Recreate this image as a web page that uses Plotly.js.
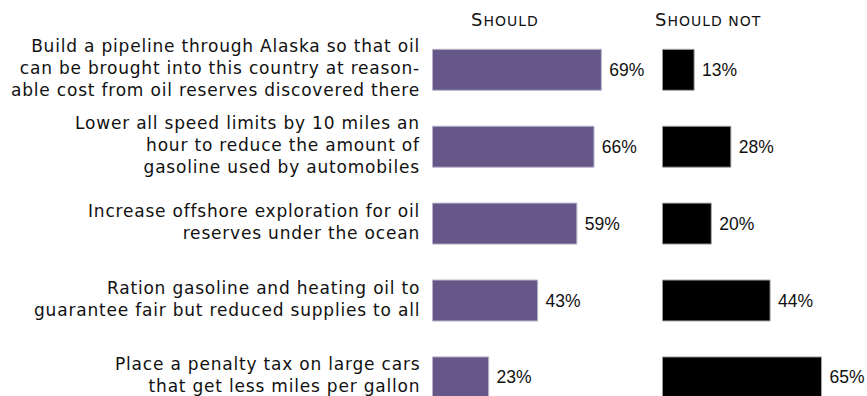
<!DOCTYPE html>
<html><head><meta charset="utf-8">
<script src="https://cdn.plot.ly/plotly-3.0.1.min.js"></script>
<style>body{margin:0;padding:0;background:#fff}#chart{width:867px;height:396px}</style>
</head><body><div id="chart"></div>
<script>
var categories = [
  "Build a pipeline through Alaska so that oil<br>can be brought into this country at reason-<br>able cost from oil reserves discovered there",
  "Lower all speed limits by 10 miles an<br>hour to reduce the amount of<br>gasoline used by automobiles",
  "Increase offshore exploration for oil<br>reserves under the ocean",
  "Ration gasoline and heating oil to<br>guarantee fair but reduced supplies to all",
  "Place a penalty tax on large cars<br>that get less miles per gallon"
];
var shouldVals = [69, 66, 59, 43, 23];
var shouldNotVals = [13, 28, 20, 44, 65];
var headerTexts = ["Should", "Should not"];

function smallCaps(s) {
  return '<span style="letter-spacing:1px">' + s.charAt(0).toUpperCase() +
    '<span style="font-size:14px">' + s.slice(1).toUpperCase() + '</span></span>';
}
function spaced(s) {
  return s.split('<br>').map(function(l){return '<span style="letter-spacing:0.8px">' + l + '</span>';}).join('<br>');
}

var W = 867, H = 396;
var pxPerPct = 2.45;
var x1start = 432.3, x2start = 662.3;
var xr = 70;
var pitch = 76.9, firstCenter = 69.8;
var yTop = -firstCenter / pitch;
var yBot = yTop + H / pitch;

var barCommon = {
  type: 'bar', orientation: 'h', width: 0.533,
  textposition: 'outside', cliponaxis: false,
  textfont: {family: 'Liberation Sans, Arial, sans-serif', size: 17.5, color: '#111'},
  hoverinfo: 'skip'
};
var t1 = Object.assign({}, barCommon, {
  x: shouldVals, y: categories, xaxis: 'x', yaxis: 'y',
  text: shouldVals.map(function(v){return ' ' + v + '%';}),
  marker: {color: '#655888', line: {color: '#b9b3c9', width: 1}}
});
var t2 = Object.assign({}, barCommon, {
  x: shouldNotVals, y: categories, xaxis: 'x2', yaxis: 'y2',
  text: shouldNotVals.map(function(v){return ' ' + v + '%';}),
  marker: {color: '#000000', line: {color: '#a8a8a8', width: 1}}
});

var annotations = categories.map(function(c) {
  return {text: spaced(c), xref: 'paper', yref: 'y', x: 422 / W, y: c, yshift: 2,
          showarrow: false, xanchor: 'right', yanchor: 'middle', align: 'right',
          font: {family: 'DejaVu Sans, sans-serif', size: 17, color: '#111'}};
});
annotations.push(
  {text: smallCaps(headerTexts[0]), xref: 'paper', yref: 'paper', x: 505 / W, y: 1 - 20 / H, showarrow: false,
   xanchor: 'center', yanchor: 'middle', font: {family: 'DejaVu Sans, sans-serif', size: 18, color: '#111'}},
  {text: smallCaps(headerTexts[1]), xref: 'paper', yref: 'paper', x: 708 / W, y: 1 - 20 / H, showarrow: false,
   xanchor: 'center', yanchor: 'middle', font: {family: 'DejaVu Sans, sans-serif', size: 18, color: '#111'}}
);

var layout = {
  width: W, height: H,
  margin: {l: 0, r: 0, t: 0, b: 0},
  paper_bgcolor: '#fff', plot_bgcolor: 'rgba(0,0,0,0)',
  showlegend: false,
  xaxis: {domain: [x1start / W, (x1start + xr * pxPerPct) / W], range: [0, xr], visible: false, fixedrange: true},
  xaxis2: {domain: [x2start / W, (x2start + xr * pxPerPct) / W], range: [0, xr], visible: false, fixedrange: true},
  yaxis: {type: 'category', categoryarray: categories, range: [yBot, yTop], showgrid: false, zeroline: false,
          showline: false, showticklabels: false, ticks: ''},
  yaxis2: {type: 'category', categoryarray: categories, range: [yBot, yTop], anchor: 'x2', showgrid: false,
           zeroline: false, showline: false, showticklabels: false, ticks: ''},
  annotations: annotations
};
Plotly.newPlot('chart', [t1, t2], layout, {staticPlot: true, displayModeBar: false});
</script></body></html>
